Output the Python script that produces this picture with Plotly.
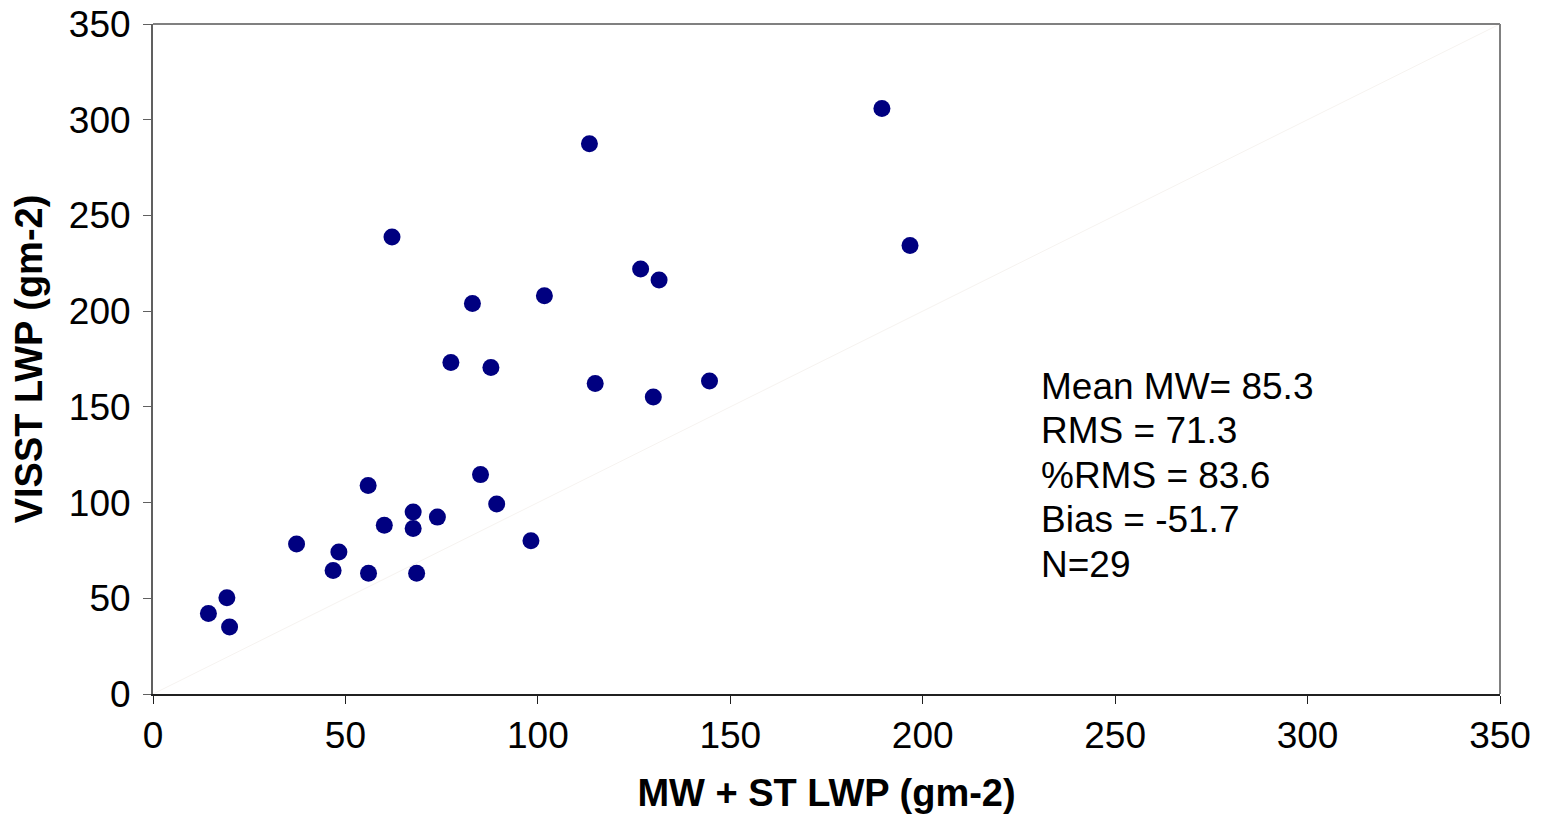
import plotly.graph_objects as go

# Data
mw_st_lwp = [14.4, 19.2, 19.9, 37.3, 46.8, 48.3, 55.9, 56.0, 60.1, 62.1,
             67.6, 67.6, 68.5, 73.9, 77.4, 83.0, 85.1, 87.8, 89.3, 98.2,
             101.7, 113.4, 114.9, 126.7, 130.0, 131.5, 144.6, 189.4, 196.7]
visst_lwp = [42.0, 50.3, 35.0, 78.3, 64.5, 74.2, 108.9, 63.1, 88.2, 238.7,
             95.1, 86.4, 63.1, 92.4, 173.2, 204.0, 114.6, 170.6, 99.3, 80.0,
             208.1, 287.5, 162.2, 222.0, 155.1, 216.3, 163.5, 305.8, 234.3]

one_to_one = [0, 350]
tick_vals = [0, 50, 100, 150, 200, 250, 300, 350]

stats_lines = ["Mean MW= 85.3", "RMS = 71.3", "%RMS = 83.6", "Bias = -51.7", "N=29"]
stats_x = 230.2
stats_y = [160.5, 137.5, 114.0, 91.0, 67.5]

FONT = "Liberation Sans, Arial, sans-serif"

fig = go.Figure()

fig.add_trace(go.Scatter(
    x=one_to_one, y=one_to_one, mode="lines",
    line=dict(color="#f6f3f0", width=1), hoverinfo="skip", showlegend=False))

fig.add_trace(go.Scatter(
    x=mw_st_lwp, y=visst_lwp, mode="markers",
    marker=dict(color="#000080", size=17, line=dict(width=0)),
    showlegend=False))

for txt, yy in zip(stats_lines, stats_y):
    fig.add_annotation(x=stats_x, y=yy, xref="x", yref="y", text=txt,
                       showarrow=False, xanchor="left", yanchor="middle",
                       font=dict(family=FONT, size=37, color="black"))

# grey top/right frame
fig.add_shape(type="line", xref="paper", yref="paper", x0=0, x1=1, y0=1, y1=1,
              line=dict(color="#808080", width=2))
fig.add_shape(type="line", xref="paper", yref="paper", x0=1, x1=1, y0=0, y1=1,
              line=dict(color="#808080", width=2))

fig.update_layout(
    width=1543, height=814,
    margin=dict(l=153, r=43, t=24, b=120, autoexpand=False),
    paper_bgcolor="white", plot_bgcolor="white",
    font=dict(family=FONT, size=37, color="black"),
    xaxis=dict(
        range=[0, 350], tickvals=tick_vals, showgrid=False, zeroline=False,
        automargin=False, ticklabeloverflow="allow",
        showline=True, linecolor="#202020", linewidth=2,
        ticks="outside", ticklen=8, tickcolor="#202020", tickwidth=1,
        tickfont=dict(family=FONT, size=37, color="black"),
        title=dict(text="<b>MW + ST LWP (gm-2)</b>", standoff=30,
                   font=dict(family=FONT, size=38, color="black")),
    ),
    yaxis=dict(
        range=[0, 350], tickvals=tick_vals, showgrid=False, zeroline=False,
        automargin=False, ticklabelstandoff=5, ticklabeloverflow="allow",
        showline=True, linecolor="#606060", linewidth=2,
        ticks="outside", ticklen=8, tickcolor="#606060", tickwidth=1,
        tickfont=dict(family=FONT, size=37, color="black"),
        title=dict(text="<b>VISST LWP (gm-2)</b>", standoff=15,
                   font=dict(family=FONT, size=38, color="black")),
    ),
)

fig.write_html("out.html",
               config={"displayModeBar": False},
               post_script="document.body.style.margin='0';"
                           "document.body.style.overflow='hidden';")
